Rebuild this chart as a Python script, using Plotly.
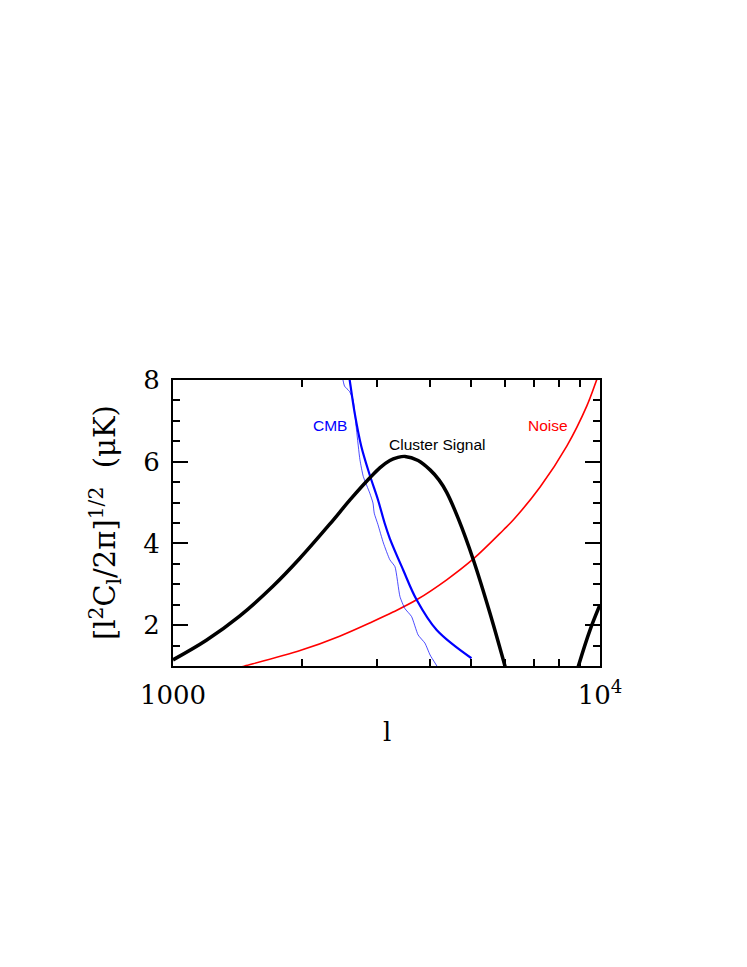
import plotly.graph_objects as go

# cluster signal (thick black), two visible pieces
sig_l = [1000, 1197, 1432, 1714, 1980, 2328, 2600, 2888, 3050, 3220, 3350, 3494, 3750, 4000, 4200, 4375,
         4660, 5050, 5525, 5990, 6100]
sig_y = [1.15, 1.63, 2.22, 2.95, 3.63, 4.47, 5.07, 5.60, 5.85, 6.03, 6.10, 6.13, 6.03, 5.80, 5.55, 5.25,
         4.60, 3.60, 2.29, 1.0, 0.7]
sig2_l = [8800, 8900, 9475, 10000]
sig2_y = [0.82, 1.0, 1.88, 2.5]

# CMB, thick blue
cmb_l = [2575, 2593, 2664, 2760, 2888, 3020, 3130, 3220, 3460, 3720, 4145, 5000]
cmb_y = [8.2, 8.0, 7.19, 6.38, 5.68, 5.07, 4.5, 4.12, 3.35, 2.62, 1.88, 1.19]

# CMB, thin blue (wiggly)
cmb2_l = [2490, 2522, 2590, 2640, 2690, 2740, 2790, 2890, 2940, 2960, 3020, 3110, 3220, 3310, 3400, 3490,
          3620, 3750, 3890, 4000, 4150]
cmb2_y = [8.1, 7.85, 7.72, 7.52, 6.78, 6.05, 5.64, 5.23, 4.99, 4.74, 4.46, 4.01, 3.60, 3.43, 2.70, 2.41,
          2.21, 1.76, 1.56, 1.27, 1.0]

# noise, red
noise_l = [1400, 1472, 2000, 2456, 2940, 3276, 3720, 4375, 5050, 5940, 6270, 7240, 8360, 9310, 9820, 10000]
noise_y = [0.94, 1.0, 1.39, 1.73, 2.09, 2.32, 2.62, 3.11, 3.62, 4.33, 4.58, 5.38, 6.38, 7.36, 8.0, 8.23]

fig = go.Figure()
fig.add_trace(go.Scatter(x=noise_l, y=noise_y, mode='lines',
                         line=dict(color='#ff0000', width=1.6, shape='spline', smoothing=1)))
fig.add_trace(go.Scatter(x=cmb2_l, y=cmb2_y, mode='lines',
                         line=dict(color='#0000ff', width=0.7, shape='spline', smoothing=0.5)))
fig.add_trace(go.Scatter(x=cmb_l, y=cmb_y, mode='lines',
                         line=dict(color='#0000ff', width=2.2, shape='spline', smoothing=1)))
fig.add_trace(go.Scatter(x=sig_l, y=sig_y, mode='lines',
                         line=dict(color='black', width=3.5, shape='spline', smoothing=1)))
fig.add_trace(go.Scatter(x=sig2_l, y=sig2_y, mode='lines',
                         line=dict(color='black', width=3.5, shape='spline', smoothing=1)))

# curve labels (x in log10 units on the log axis)
lab = dict(family='Liberation Sans, Arial', size=15.5)
fig.add_annotation(x=3.367, y=6.88, xref='x', yref='y', text='CMB', showarrow=False,
                   font=dict(lab, color='#0000ff'))
fig.add_annotation(x=3.620, y=6.42, xref='x', yref='y', text='Cluster Signal', showarrow=False,
                   font=dict(lab, color='black'))
fig.add_annotation(x=3.878, y=6.88, xref='x', yref='y', text='Noise', showarrow=False,
                   font=dict(lab, color='#ff0000'))

serif = dict(family='DejaVu Serif', size=26, color='black')
fig.add_annotation(x=-0.159, y=0.50, xref='paper', yref='paper', textangle=-90, showarrow=False,
                   xanchor='center', yanchor='middle',
                   text='[l<sup>2</sup>C<sub>l</sub>/2π]<sup>1/2</sup>  (μK)', font=dict(serif, size=29))
fig.add_annotation(x=0.501, y=-0.231, xref='paper', yref='paper', showarrow=False,
                   xanchor='center', yanchor='middle', text='l', font=serif)

fig.update_xaxes(type='log', range=[3, 4], showline=True, linecolor='black', linewidth=2,
                 mirror='allticks', ticks='inside', ticklen=15, tickwidth=1.5, tickcolor='black',
                 tickvals=[1000, 10000], ticktext=['1000', '10<sup>4</sup>'], showgrid=False,
                 zeroline=False, tickfont=serif, ticklabelstandoff=5,
                 minor=dict(tickvals=[2000, 3000, 4000, 5000, 6000, 7000, 8000, 9000],
                            ticks='inside', ticklen=7, tickwidth=1.5, tickcolor='black', showgrid=False))
fig.update_yaxes(range=[1, 8], showline=True, linecolor='black', linewidth=2,
                 mirror='allticks', ticks='inside', ticklen=15, tickwidth=1.5, tickcolor='black',
                 tickvals=[2, 4, 6, 8], showgrid=False, zeroline=False, tickfont=serif,
                 ticklabelstandoff=6,
                 minor=dict(dtick=0.5, ticks='inside', ticklen=7, tickwidth=1.5,
                            tickcolor='black', showgrid=False))

# page body adds an 8px offset, so margins are pulled in by 8
fig.update_layout(width=747, height=967, showlegend=False, template='simple_white',
                  plot_bgcolor='white', paper_bgcolor='white',
                  margin=dict(l=165, r=155, t=372, b=309))
fig.write_html("out.html")
